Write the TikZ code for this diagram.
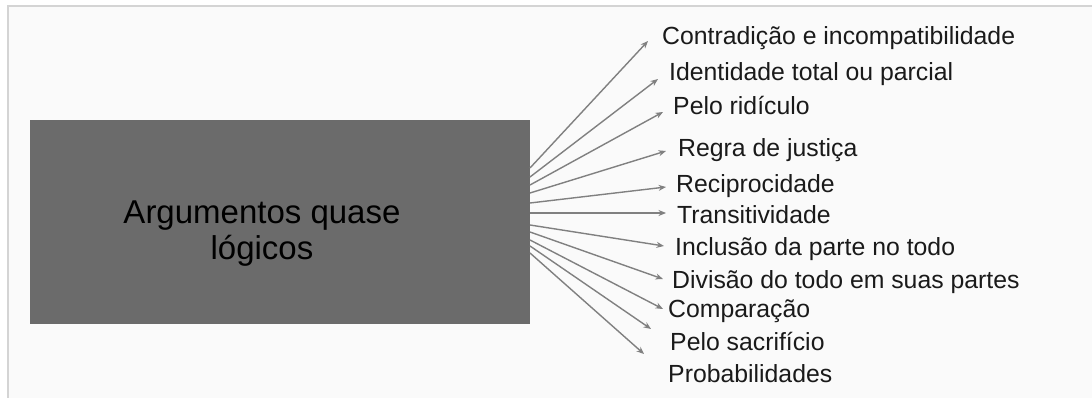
\documentclass[tikz,border=0pt]{standalone}
\usepackage{fontspec}
\setmainfont{Liberation Sans}
\usetikzlibrary{arrows.meta}
\definecolor{framegray}{HTML}{D4D4D4}
\definecolor{bggray}{HTML}{FAFAFA}
\definecolor{boxgray}{HTML}{6B6B6B}
\definecolor{linegray}{HTML}{808080}
\definecolor{txt}{HTML}{1A1A1A}
\tikzset{
  mainbox/.style={fill=boxgray, draw=none, minimum width=500pt, minimum height=204pt, inner sep=0pt, anchor=north west},
  lbl/.style={anchor=base west, inner sep=0pt, text=txt, font=\fontsize{24.8}{29}\selectfont},
  conn/.style={draw=linegray, line width=1.4pt, -{Stealth[length=7.5pt,width=6pt]}},
}
\begin{document}
\begin{tikzpicture}[x=1pt,y=-1pt]
\useasboundingbox (0,0) rectangle (1092,398);
\fill[white] (0,0) rectangle (1092,398);
\fill[bggray] (7,6) rectangle (1092,398);
\draw[framegray, line width=2pt] (7.5,398) -- (7.5,6) -- (1092,6);
\node[mainbox] (box) at (30,120) {};
\node[anchor=center, align=center, text=black, font=\fontsize{33}{36}\selectfont] (title) at (262,234) {Argumentos quase\\lógicos};
% labels
\node[lbl] (l1) at (662,45) {Contradição e incompatibilidade};
\node[lbl] (l2) at (669,81) {Identidade total ou parcial};
\node[lbl] (l3) at (673,115) {Pelo ridículo};
\node[lbl] (l4) at (678,157) {Regra de justiça};
\node[lbl] (l5) at (676,193) {Reciprocidade};
\node[lbl] (l6) at (677,223) {Transitividade};
\node[lbl] (l7) at (675,255) {Inclusão da parte no todo};
\node[lbl] (l8) at (672,288) {Divisão do todo em suas partes};
\node[lbl] (l9) at (668,317) {Comparação};
\node[lbl] (l10) at (670,350) {Pelo sacrifício};
\node[lbl] (l11) at (668,382) {Probabilidades};
% start points on box edge
\coordinate (s1) at (530,168);
\coordinate (s2) at (530,177);
\coordinate (s3) at (530,185);
\coordinate (s4) at (530,193);
\coordinate (s5) at (530,203);
\coordinate (s6) at (530,213);
\coordinate (s7) at (530,225);
\coordinate (s8) at (530,232);
\coordinate (s9) at (530,240);
\coordinate (s10) at (530,246);
\coordinate (s11) at (530,253);
% arrow tips
\coordinate (t1) at (648,41);
\coordinate (t2) at (658,79);
\coordinate (t3) at (663,112);
\coordinate (t4) at (666,151);
\coordinate (t5) at (666,187);
\coordinate (t6) at (666,213);
\coordinate (t7) at (664,246);
\coordinate (t8) at (663,279);
\coordinate (t9) at (663,309);
\coordinate (t10) at (651,329);
\coordinate (t11) at (644,354);
\foreach \i in {1,...,11} \draw[conn] (s\i) -- (t\i);
\end{tikzpicture}
\end{document}
